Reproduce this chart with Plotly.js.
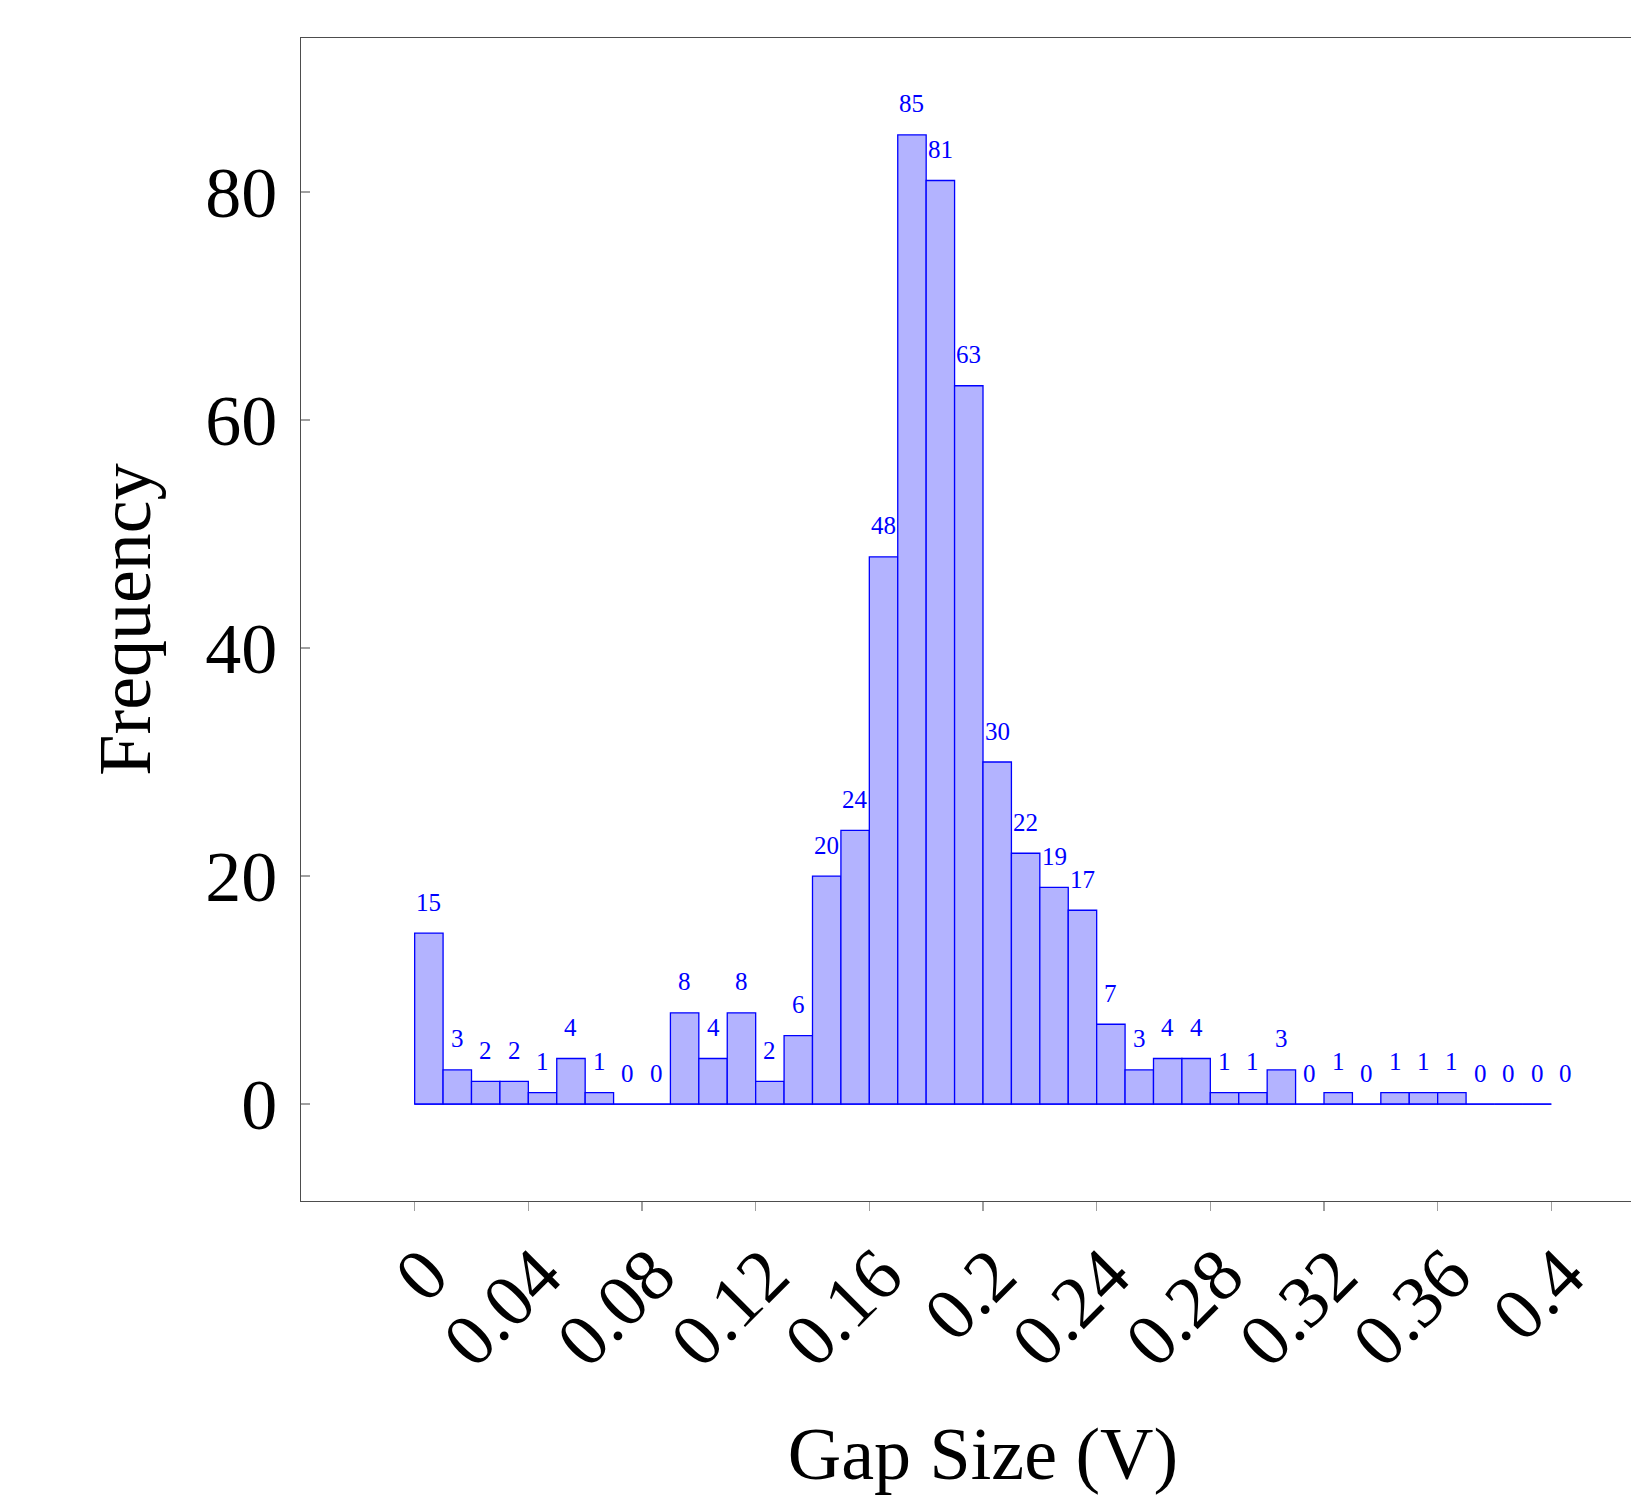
<!DOCTYPE html>
<html>
<head>
<meta charset="utf-8">
<script src="https://cdn.plot.ly/plotly-3.0.1.min.js"></script>
<style>
html,body{margin:0;padding:0;overflow:hidden;background:#fff;}
#chart{width:1700px;height:1495px;}
</style>
</head>
<body>
<div id="chart"></div>
<script>
// Histogram bins: left edges (V), width 0.01
const binStart = 0;
const binWidth = 0.01;
const counts = [15, 3, 2, 2, 1, 4, 1, 0, 0, 8,
                4, 8, 2, 6, 20, 24, 48, 85, 81, 63,
                30, 22, 19, 17, 7, 3, 4, 4, 1, 1,
                3, 0, 1, 0, 1, 1, 1, 0, 0, 0];
// pgfplots repeats the last value at the closing edge (x = 0.40)
const labelCounts = counts.concat([counts[counts.length - 1]]);
const xTickVals = [0, 0.04, 0.08, 0.12, 0.16, 0.2, 0.24, 0.28, 0.32, 0.36, 0.4];
const xTickText = ["0", "0.04", "0.08", "0.12", "0.16", "0.2", "0.24", "0.28", "0.32", "0.36", "0.4"];
const yTickVals = [0, 20, 40, 60, 80];
const xTitle = "Gap Size (V)";
const yTitle = "Frequency";

const centers = counts.map((c, i) => binStart + (i + 0.5) * binWidth);
const edges = labelCounts.map((c, i) => binStart + i * binWidth);
const labelX = labelCounts.map((c, i) => binStart + (i + 0.5) * binWidth);

const FONT = "Liberation Serif, Times New Roman, serif";
const BLUE = "rgb(0,0,255)";

const traces = [
  {
    type: "scatter", mode: "lines", x: edges, y: edges.map(() => 0),
    line: {color: BLUE, width: 1.3}, hoverinfo: "skip", showlegend: false
  },
  {
    type: "bar", x: centers, y: counts, width: binWidth,
    marker: {color: "rgb(179,179,255)", line: {color: BLUE, width: 1.3}},
    showlegend: false
  }
];

const annotations = labelCounts.map((c, i) => ({
  x: labelX[i], y: c, xref: "x", yref: "y",
  text: String(c), showarrow: false, yshift: 31,
  xanchor: "center", yanchor: "middle",
  font: {family: FONT, size: 25, color: BLUE}
}));

const layout = {
  width: 1700, height: 1495,
  margin: {l: 301, r: 35, t: 38, b: 294},
  paper_bgcolor: "#fff", plot_bgcolor: "#fff",
  font: {family: FONT, color: "#000"},
  showlegend: false,
  bargap: 0,
  xaxis: {
    range: [-0.04, 0.44], showgrid: false, zeroline: false,
    showline: true, mirror: true, linecolor: "#4d4d4d", linewidth: 1.3,
    ticks: "outside", ticklen: 9, tickcolor: "#a0a0a0", tickwidth: 1.3,
    tickmode: "array", tickvals: xTickVals, ticktext: xTickText,
    tickangle: -45, tickfont: {family: FONT, size: 74, color: "#000"},
    ticklabelshift: 11, ticklabelstandoff: -10,
    title: {text: xTitle, font: {family: FONT, size: 74, color: "#000"}, standoff: 48},
    automargin: false
  },
  yaxis: {
    range: [-8.5, 93.5], showgrid: false, zeroline: false,
    showline: true, mirror: true, linecolor: "#4d4d4d", linewidth: 1.3,
    ticks: "inside", ticklen: 9, tickcolor: "#a0a0a0", tickwidth: 1.3,
    tickmode: "array", tickvals: yTickVals, ticktext: yTickVals.map(String),
    ticklabelstandoff: 8,
    tickfont: {family: FONT, size: 72, color: "#000"},
    title: {text: yTitle, font: {family: FONT, size: 74, color: "#000"}, standoff: 30},
    automargin: false
  },
  annotations: annotations
};

Plotly.newPlot("chart", traces, layout, {displayModeBar: false, responsive: false, staticPlot: true});
</script>
</body>
</html>
